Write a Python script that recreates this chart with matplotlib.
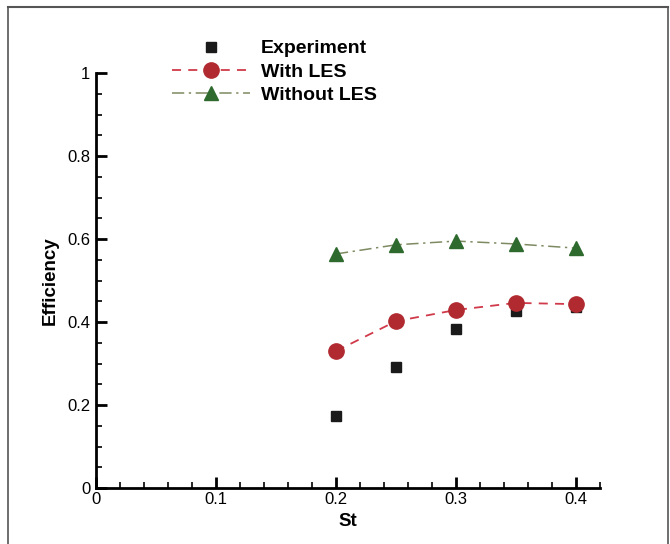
import matplotlib
matplotlib.use("Agg")
import matplotlib.pyplot as plt
from matplotlib.lines import Line2D
from matplotlib.ticker import MultipleLocator, FuncFormatter

plt.rcParams['font.family'] = ['Liberation Sans', 'DejaVu Sans']

st = [0.2, 0.25, 0.3, 0.35, 0.4]
experiment = [0.173, 0.292, 0.383, 0.427, 0.436]
with_les = [0.330, 0.402, 0.429, 0.446, 0.443]
without_les = [0.564, 0.586, 0.595, 0.588, 0.578]
labels = ["Experiment", "With LES", "Without LES"]

W, H = 670, 544
fig = plt.figure(figsize=(W / 100, H / 100), dpi=100)
ax = fig.add_axes([96 / W, 1 - 488 / H, (600 - 96) / W, (488 - 73) / H])

ax.plot(st, experiment, linestyle='none', marker='s', color='#1a1a1a',
        markersize=6.5, label=labels[0])
ax.plot(st, with_les, linestyle=(0, (5, 4)), color='#d03a4a', linewidth=1.3,
        marker='o', markersize=11, markerfacecolor='#b02a30',
        markeredgecolor='#b02a30', label=labels[1])
ax.plot(st, without_les, linestyle=(0, (8, 3, 1.5, 3)), color='#7d8a62', linewidth=1.1,
        marker='^', markersize=10.5, markerfacecolor='#2e6a2e',
        markeredgecolor='#2e6a2e', label=labels[2])

ax.set_xlim(0, 0.42)
ax.set_ylim(0, 1)
for s in ['top', 'right']:
    ax.spines[s].set_visible(False)
for s in ['left', 'bottom']:
    ax.spines[s].set_linewidth(2)
ax.spines['left'].set_bounds(0, 1)

ax.xaxis.set_major_locator(MultipleLocator(0.1))
ax.xaxis.set_minor_locator(MultipleLocator(0.02))
ax.yaxis.set_major_locator(MultipleLocator(0.2))
ax.yaxis.set_minor_locator(MultipleLocator(0.05))
fmt = FuncFormatter(lambda v, p: ('%g' % round(v, 3)))
ax.xaxis.set_major_formatter(fmt)
ax.yaxis.set_major_formatter(fmt)
ax.tick_params(which='major', direction='in', length=8, width=2, labelsize=12, pad=4)
ax.tick_params(which='minor', direction='in', length=4, width=1.2)
ax.tick_params(axis='x', pad=3)

ax.set_xlabel('St', fontsize=13.5, fontweight='bold', labelpad=4)
ax.set_ylabel('Efficiency', fontsize=13.5, fontweight='bold', labelpad=6)

leg = ax.legend(loc='upper left', bbox_to_anchor=(162 / W, 1 - 30 / H),
                bbox_transform=fig.transFigure, frameon=False,
                prop={'size': 14, 'weight': 'bold'}, handlelength=4.0,
                handletextpad=0.6, labelspacing=0.3, borderpad=0)

# figure frame
fig.add_artist(Line2D([8 / W, 668 / W], [1 - 7 / H, 1 - 7 / H], transform=fig.transFigure,
                      color='#555555', linewidth=1.5))
fig.add_artist(Line2D([8 / W, 8 / W], [0, 1 - 7 / H], transform=fig.transFigure,
                      color='#555555', linewidth=1.2))
fig.add_artist(Line2D([668 / W, 668 / W], [0, 1 - 7 / H], transform=fig.transFigure,
                      color='#555555', linewidth=1.2))

fig.savefig('out.png', dpi=100)
